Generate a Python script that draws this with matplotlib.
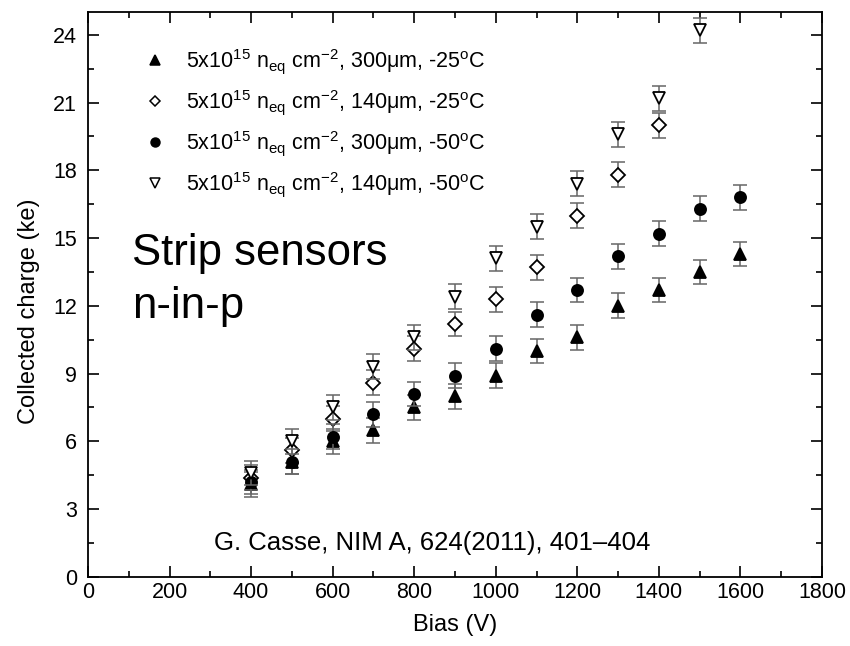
import numpy as np
import matplotlib.pyplot as plt
from matplotlib.lines import Line2D
from matplotlib.ticker import MultipleLocator

plt.rcParams['font.family'] = ['Liberation Sans', 'DejaVu Sans']
plt.rcParams['mathtext.fontset'] = 'custom'
plt.rcParams['mathtext.rm'] = 'Liberation Sans'
plt.rcParams['mathtext.it'] = 'Liberation Sans'

# data (bias in V, charge in ke)
bias_a = [400, 500, 600, 700, 800, 900, 1000, 1100, 1200, 1300, 1400, 1500, 1600]
q_300_25 = [4.1, 5.1, 6.0, 6.5, 7.5, 8.0, 8.9, 10.0, 10.6, 12.0, 12.7, 13.5, 14.3]
q_300_50 = [4.2, 5.1, 6.2, 7.2, 8.1, 8.9, 10.1, 11.6, 12.7, 14.2, 15.2, 16.3, 16.8]
bias_b = [400, 500, 600, 700, 800, 900, 1000, 1100, 1200, 1300, 1400]
q_140_25 = [4.4, 5.6, 7.0, 8.6, 10.1, 11.2, 12.3, 13.7, 16.0, 17.8, 20.0]
bias_c = [400, 500, 600, 700, 800, 900, 1000, 1100, 1200, 1300, 1400, 1500]
q_140_50 = [4.6, 6.0, 7.5, 9.3, 10.6, 12.4, 14.1, 15.5, 17.4, 19.6, 21.2, 24.2]
err = 0.55

labels = [r'5x10$^{15}$ n$_{\rm eq}$ cm$^{-2}$, 300$\mu$m, -25$^{\rm o}$C',
          r'5x10$^{15}$ n$_{\rm eq}$ cm$^{-2}$, 140$\mu$m, -25$^{\rm o}$C',
          r'5x10$^{15}$ n$_{\rm eq}$ cm$^{-2}$, 300$\mu$m, -50$^{\rm o}$C',
          r'5x10$^{15}$ n$_{\rm eq}$ cm$^{-2}$, 140$\mu$m, -50$^{\rm o}$C']

fig = plt.figure(figsize=(8.5, 6.46), dpi=100)
ax = fig.add_axes([0.1035, 0.107, 0.8635, 0.874])

series = [
    (bias_a, q_300_25, '^', 'black', 9),
    (bias_b, q_140_25, 'D', 'white', 7),
    (bias_a, q_300_50, 'o', 'black', 8),
    (bias_c, q_140_50, 'v', 'white', 9),
]
handles = []
for (x, y, m, fc, ms), lab in zip(series, labels):
    ax.errorbar(x, y, yerr=err, fmt='none', ecolor='#666666', elinewidth=1.1,
                capsize=5, capthick=1.1)
    ax.plot(x, y, m, ms=ms, mfc=fc, mec='black', mew=1.3, ls='none')
    handles.append(Line2D([], [], marker=m, ls='none', ms=ms * 0.8, mfc=fc,
                          mec='black', mew=1.1))

ax.legend(handles, labels, loc='upper left', bbox_to_anchor=(0.048, 0.972),
          frameon=False, fontsize=15.5, handletextpad=0.8, labelspacing=0.55,
          handlelength=1.2)

ax.set_xlim(0, 1800)
ax.set_ylim(0, 25)
ax.xaxis.set_major_locator(MultipleLocator(200))
ax.xaxis.set_minor_locator(MultipleLocator(100))
ax.yaxis.set_major_locator(MultipleLocator(3))
ax.yaxis.set_minor_locator(MultipleLocator(1.5))
ax.tick_params(which='both', direction='in', top=True, right=True,
               labelsize=15.5, width=1.2)
ax.tick_params(which='major', length=8)
ax.tick_params(which='minor', length=4)
ax.tick_params(axis='y', pad=8)
for s in ax.spines.values():
    s.set_linewidth(1.3)

ax.set_xlabel('Bias (V)', fontsize=17, labelpad=8)
ax.set_ylabel('Collected charge (ke)', fontsize=17)
ax.yaxis.set_label_coords(-0.066, 0.471)

ax.text(0.06, 0.552, 'Strip sensors', transform=ax.transAxes,
        fontsize=31.5, va='baseline', ha='left')
ax.text(0.06, 0.458, 'n-in-p', transform=ax.transAxes,
        fontsize=31.5, va='baseline', ha='left')
ax.text(0.469, 0.06, 'G. Casse, NIM A, 624(2011), 401\u2013404',
        transform=ax.transAxes, fontsize=18.5, ha='center', va='center')

fig.savefig('out.png', dpi=100)
